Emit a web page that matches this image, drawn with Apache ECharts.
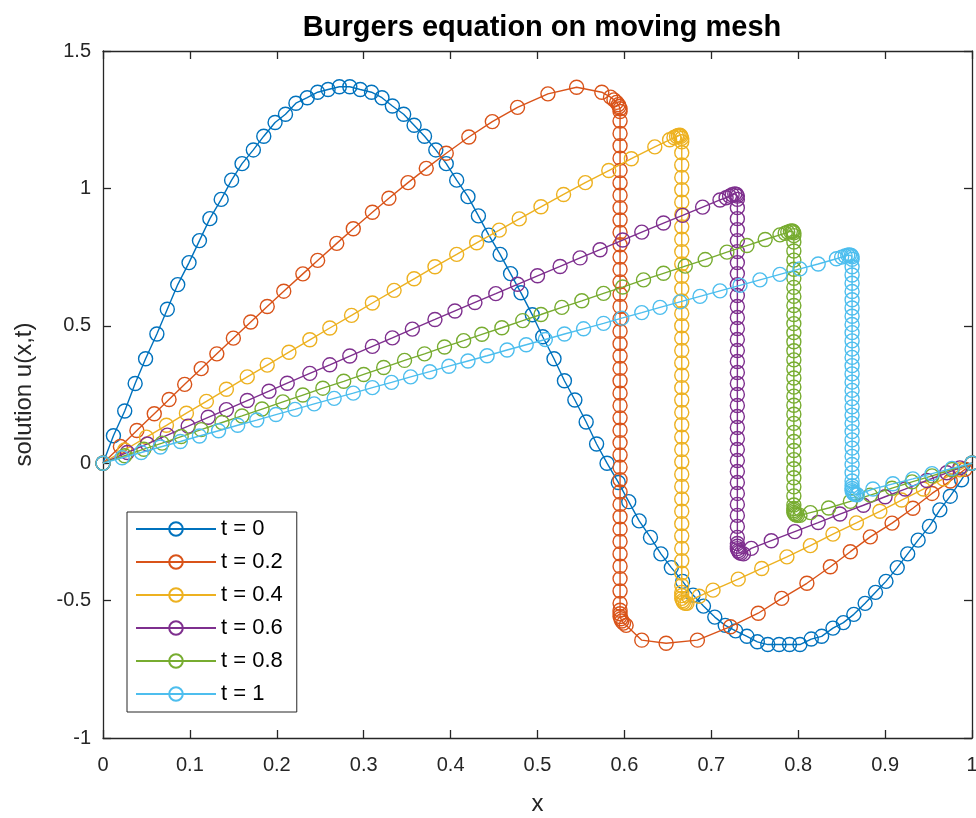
<!DOCTYPE html>
<html><head><meta charset="utf-8">
<script src="https://cdn.jsdelivr.net/npm/echarts@6/dist/echarts.min.js"></script>
<style>html,body{margin:0;padding:0;background:#fff}#c{width:976px;height:818px}</style>
</head><body><div id="c"></div>
<script>
const seriesNames = ['t = 0','t = 0.2','t = 0.4','t = 0.6','t = 0.8','t = 1'];
const seriesColors = ['#0072BD','#D95319','#EDB120','#7E2F8E','#77AC30','#4DBEEE'];
const xTickLabels = ['0','0.1','0.2','0.3','0.4','0.5','0.6','0.7','0.8','0.9','1'];
const yTickLabels = ['-1','-0.5','0','0.5','1','1.5'];

// ---- t = 0 (uniform mesh)
const x0 = [0,0.012,0.025,0.037,0.049,0.062,0.074,0.086,0.099,0.111,0.123,0.136,0.148,0.160,0.173,0.185,0.198,0.210,0.222,0.235,0.247,0.259,0.272,0.284,0.296,0.309,0.321,0.333,0.346,0.358,0.370,0.383,0.395,0.407,0.420,0.432,0.444,0.457,0.469,0.481,0.494,0.506,0.519,0.531,0.543,0.556,0.568,0.580,0.593,0.605,0.617,0.630,0.642,0.654,0.667,0.679,0.691,0.704,0.716,0.728,0.741,0.753,0.765,0.778,0.790,0.802,0.815,0.827,0.840,0.852,0.864,0.877,0.889,0.901,0.914,0.926,0.938,0.951,0.963,0.975,0.988,1];
const u0 = [0,0.10,0.19,0.29,0.38,0.47,0.56,0.65,0.73,0.81,0.89,0.96,1.03,1.09,1.14,1.19,1.24,1.27,1.31,1.33,1.35,1.36,1.37,1.37,1.36,1.35,1.33,1.30,1.27,1.23,1.19,1.14,1.09,1.03,0.97,0.90,0.83,0.76,0.69,0.62,0.54,0.46,0.38,0.30,0.23,0.15,0.07,0.00,-0.07,-0.14,-0.21,-0.27,-0.33,-0.38,-0.43,-0.48,-0.52,-0.56,-0.59,-0.61,-0.63,-0.65,-0.66,-0.66,-0.66,-0.66,-0.64,-0.63,-0.60,-0.58,-0.55,-0.51,-0.47,-0.43,-0.38,-0.33,-0.28,-0.23,-0.17,-0.12,-0.06,0];

// ---- t = 0.2
const rise02X = [0,0.020,0.039,0.059,0.076,0.094,0.113,0.131,0.150,0.170,0.189,0.208,0.230,0.247,0.269,0.288,0.310,0.329,0.351,0.372,0.395,0.421,0.448,0.477,0.512,0.545,0.574];
const rise02U = [0,0.061,0.119,0.180,0.232,0.287,0.344,0.398,0.455,0.514,0.570,0.626,0.689,0.738,0.800,0.853,0.913,0.964,1.021,1.073,1.128,1.187,1.243,1.295,1.344,1.368,1.350];
const top02X = [0.584,0.588,0.591,0.593,0.594,0.595,0.595];
const top02U = [1.332,1.322,1.313,1.305,1.298,1.290,1.280];
const shock02X = 0.595;
const shock02U = [1.245,1.200,1.155,1.110,1.065,1.020,0.975,0.930,0.885,0.840,0.795,0.750,0.705,0.660,0.615,0.570,0.525,0.480,0.435,0.390,0.345,0.300,0.255,0.210,0.165,0.120,0.075,0.030,-0.015,-0.060,-0.105,-0.150,-0.195,-0.240,-0.285,-0.330,-0.375,-0.420,-0.465,-0.510];
const foot02X = [0.595,0.595,0.595,0.596,0.597,0.599,0.602];
const foot02U = [-0.535,-0.548,-0.558,-0.566,-0.574,-0.582,-0.590];
const tail02X = [0.620,0.648,0.684,0.722,0.754,0.781,0.810,0.837,0.860,0.883,0.908,0.932,0.954,0.975,0.992,1];
const tail02U = [-0.644,-0.655,-0.644,-0.595,-0.546,-0.492,-0.437,-0.377,-0.322,-0.268,-0.218,-0.164,-0.110,-0.065,-0.022,0];

// ---- t = 0.4
const rise04X = [0,0.025,0.050,0.073,0.096,0.119,0.142,0.166,0.189,0.214,0.238,0.261,0.286,0.310,0.335,0.358,0.382,0.407,0.430,0.456,0.479,0.504,0.530,0.555,0.582,0.608,0.635,0.652];
const rise04U = [0,0.048,0.095,0.138,0.182,0.225,0.269,0.314,0.357,0.404,0.449,0.492,0.538,0.583,0.629,0.671,0.715,0.760,0.802,0.848,0.889,0.933,0.978,1.021,1.065,1.108,1.151,1.177];
const top04X = [0.657,0.660,0.662,0.664,0.665,0.666,0.666];
const top04U = [1.185,1.190,1.193,1.194,1.190,1.182,1.170];
const shock04X = 0.666;
const shock04U = [1.130,1.085,1.040,0.995,0.950,0.905,0.860,0.815,0.770,0.725,0.680,0.635,0.590,0.545,0.500,0.455,0.410,0.365,0.320,0.275,0.230,0.185,0.140,0.095,0.050,0.005,-0.040,-0.085,-0.130,-0.175,-0.220,-0.265,-0.310,-0.355,-0.400,-0.445];
const foot04X = [0.666,0.666,0.666,0.667,0.668,0.670,0.672];
const foot04U = [-0.470,-0.482,-0.492,-0.500,-0.506,-0.510,-0.510];
const tail04X = [0.686,0.702,0.731,0.758,0.787,0.814,0.840,0.867,0.894,0.919,0.944,0.967,0.986,1];
const tail04U = [-0.484,-0.462,-0.422,-0.383,-0.341,-0.300,-0.258,-0.217,-0.175,-0.134,-0.094,-0.057,-0.024,0];

// ---- t = 0.6
const rise06X = [0,0.028,0.051,0.074,0.098,0.121,0.142,0.166,0.191,0.212,0.238,0.261,0.284,0.310,0.333,0.356,0.382,0.405,0.428,0.452,0.477,0.500,0.526,0.549,0.572,0.598,0.620,0.645,0.667,0.690,0.710];
const rise06U = [0,0.039,0.070,0.102,0.135,0.167,0.195,0.228,0.262,0.291,0.327,0.358,0.390,0.425,0.456,0.488,0.523,0.554,0.585,0.617,0.651,0.682,0.716,0.747,0.777,0.812,0.841,0.874,0.902,0.932,0.958];
const top06X = [0.717,0.721,0.724,0.727,0.729,0.730,0.730];
const top06U = [0.966,0.972,0.977,0.980,0.978,0.972,0.960];
const shock06X = 0.730;
const shock06U = [0.93,0.89,0.85,0.81,0.77,0.73,0.69,0.65,0.61,0.57,0.53,0.49,0.45,0.41,0.37,0.33,0.29,0.25,0.21,0.17,0.13,0.09,0.05,0.01,-0.03,-0.07,-0.11,-0.15,-0.19,-0.23,-0.27];
const foot06X = [0.730,0.730,0.730,0.731,0.732,0.734,0.737];
const foot06U = [-0.292,-0.302,-0.311,-0.318,-0.324,-0.328,-0.330];
const tail06X = [0.746,0.769,0.796,0.823,0.848,0.875,0.900,0.923,0.948,0.971,0.986,1];
const tail06U = [-0.310,-0.282,-0.249,-0.216,-0.185,-0.153,-0.122,-0.094,-0.063,-0.035,-0.017,0];

// ---- t = 0.8
const rise08X = [0,0.025,0.047,0.068,0.090,0.113,0.137,0.160,0.183,0.207,0.230,0.253,0.277,0.300,0.323,0.347,0.370,0.393,0.415,0.436,0.459,0.483,0.504,0.528,0.551,0.576,0.598,0.622,0.645,0.670,0.693,0.718,0.741,0.762,0.779];
const rise08U = [0,0.027,0.051,0.073,0.097,0.122,0.148,0.172,0.197,0.223,0.248,0.273,0.298,0.323,0.348,0.374,0.398,0.423,0.446,0.469,0.493,0.519,0.541,0.567,0.591,0.618,0.641,0.667,0.691,0.717,0.741,0.768,0.792,0.814,0.831];
const top08X = [0.785,0.788,0.791,0.793,0.794,0.795,0.795];
const top08U = [0.837,0.841,0.844,0.845,0.843,0.838,0.828];
const shock08X = 0.795;
const shock08U = [0.805,0.772,0.739,0.706,0.673,0.640,0.607,0.574,0.541,0.508,0.475,0.442,0.409,0.376,0.343,0.310,0.277,0.244,0.211,0.178,0.145,0.112,0.079,0.046,0.013,-0.020,-0.053,-0.086,-0.119,-0.152];
const foot08X = [0.795,0.795,0.795,0.796,0.797,0.799,0.802];
const foot08U = [-0.165,-0.172,-0.179,-0.184,-0.188,-0.190,-0.190];
const tail08X = [0.814,0.835,0.860,0.883,0.908,0.931,0.954,0.977,1];
const tail08U = [-0.180,-0.163,-0.139,-0.116,-0.091,-0.068,-0.046,-0.023,0];

// ---- t = 1
const rise10X = [0,0.022,0.044,0.066,0.089,0.111,0.133,0.155,0.177,0.199,0.221,0.243,0.266,0.288,0.310,0.332,0.354,0.376,0.398,0.420,0.442,0.465,0.487,0.509,0.531,0.553,0.576,0.597,0.620,0.641,0.664,0.687,0.710,0.733,0.756,0.779,0.802,0.823,0.844];
const rise10U = [0,0.020,0.039,0.059,0.079,0.099,0.118,0.138,0.157,0.177,0.196,0.216,0.236,0.255,0.275,0.294,0.314,0.333,0.353,0.372,0.391,0.412,0.431,0.450,0.470,0.489,0.509,0.528,0.548,0.567,0.587,0.607,0.627,0.647,0.667,0.687,0.707,0.725,0.744];
const top10X = [0.850,0.854,0.857,0.859,0.861,0.862,0.862];
const top10U = [0.750,0.754,0.757,0.758,0.756,0.751,0.742];
const shock10X = 0.862;
const shock10U = [0.715,0.685,0.655,0.625,0.595,0.565,0.535,0.505,0.475,0.445,0.415,0.385,0.355,0.325,0.295,0.265,0.235,0.205,0.175,0.145,0.115,0.085,0.055,0.025,-0.005,-0.035,-0.065];
const foot10X = [0.862,0.862,0.862,0.863,0.864,0.866,0.868];
const foot10U = [-0.082,-0.092,-0.100,-0.106,-0.111,-0.114,-0.115];
const tail10X = [0.886,0.909,0.932,0.954,0.977,1];
const tail10U = [-0.094,-0.075,-0.057,-0.038,-0.019,0];

function pairs(xa, ua) { return xa.map((x, j) => [x, ua[j]]); }
function column(x, ua) { return ua.map(u => [x, u]); }
function curve(p) {
  return [].concat(pairs(p[0], p[1]), pairs(p[2], p[3]), column(p[4], p[5]), pairs(p[6], p[7]), pairs(p[8], p[9]));
}

const seriesData = [
  pairs(x0, u0),
  curve([rise02X, rise02U, top02X, top02U, shock02X, shock02U, foot02X, foot02U, tail02X, tail02U]),
  curve([rise04X, rise04U, top04X, top04U, shock04X, shock04U, foot04X, foot04U, tail04X, tail04U]),
  curve([rise06X, rise06U, top06X, top06U, shock06X, shock06U, foot06X, foot06U, tail06X, tail06U]),
  curve([rise08X, rise08U, top08X, top08U, shock08X, shock08U, foot08X, foot08U, tail08X, tail08U]),
  curve([rise10X, rise10U, top10X, top10U, shock10X, shock10U, foot10X, foot10U, tail10X, tail10U])
];

const FONT = "'Liberation Sans',Arial,Helvetica,sans-serif";
const AX = '#262626';

const series = seriesNames.map((name, i) => ({
  name: name,
  type: 'line',
  data: seriesData[i],
  symbol: 'circle',
  symbolSize: 14,
  showAllSymbol: true,
  clip: false,
  lineStyle: { color: seriesColors[i], width: 1.4 },
  itemStyle: { color: 'rgba(255,255,255,0)', borderColor: seriesColors[i], borderWidth: 1.4 },
  emphasis: { disabled: true },
  z: 2 + i
}));

const chart = echarts.init(document.getElementById('c'), null, { renderer: 'canvas' });
chart.setOption({
  animation: false,
  backgroundColor: '#fff',
  title: {
    text: 'Burgers equation on moving mesh',
    left: 537, top: 8, textAlign: 'center',
    textStyle: { fontFamily: FONT, fontWeight: 'bold', fontSize: 29, color: '#000' }
  },
  grid: { left: 103, top: 51, width: 869, height: 687, containLabel: false, outerBoundsMode: 'none' },
  legend: {
    data: seriesNames,
    orient: 'vertical',
    left: 127, top: 512,
    itemWidth: 80, itemHeight: 17, itemGap: 11,
    padding: [6, 14, 7, 8],
    borderColor: AX, borderWidth: 1,
    backgroundColor: '#fff',
    textStyle: { fontFamily: FONT, fontSize: 22, color: '#000' },
    z: 20
  },
  xAxis: [{
    type: 'value', min: 0, max: 1, interval: 0.1, position: 'bottom',
    name: 'x', nameLocation: 'middle', nameGap: 54,
    nameTextStyle: { fontFamily: FONT, fontSize: 24, color: AX },
    axisLine: { show: true, onZero: false, lineStyle: { color: AX, width: 1.3 } },
    axisTick: { show: true, inside: true, length: 8, lineStyle: { color: AX, width: 1.3 } },
    axisLabel: { margin: 17, fontFamily: FONT, fontSize: 20, color: AX, formatter: (v, i) => xTickLabels[i] },
    splitLine: { show: false }
  }, {
    type: 'value', min: 0, max: 1, interval: 0.1, position: 'top',
    axisLine: { show: true, onZero: false, lineStyle: { color: AX, width: 1.3 } },
    axisTick: { show: true, inside: true, length: 8, lineStyle: { color: AX, width: 1.3 } },
    axisLabel: { show: false }, splitLine: { show: false }
  }],
  yAxis: [{
    type: 'value', min: -1, max: 1.5, interval: 0.5, position: 'left',
    name: 'solution u(x,t)', nameLocation: 'middle', nameGap: 67, nameRotate: 90,
    nameTextStyle: { fontFamily: FONT, fontSize: 24, color: AX },
    axisLine: { show: true, onZero: false, lineStyle: { color: AX, width: 1.3 } },
    axisTick: { show: true, inside: true, length: 8, lineStyle: { color: AX, width: 1.3 } },
    axisLabel: { margin: 12, fontFamily: FONT, fontSize: 20, color: AX, formatter: (v, i) => yTickLabels[i] },
    splitLine: { show: false }
  }, {
    type: 'value', min: -1, max: 1.5, interval: 0.5, position: 'right',
    axisLine: { show: true, onZero: false, lineStyle: { color: AX, width: 1.3 } },
    axisTick: { show: true, inside: true, length: 8, lineStyle: { color: AX, width: 1.3 } },
    axisLabel: { show: false }, splitLine: { show: false }
  }],
  series: series
});
</script>
</body></html>
